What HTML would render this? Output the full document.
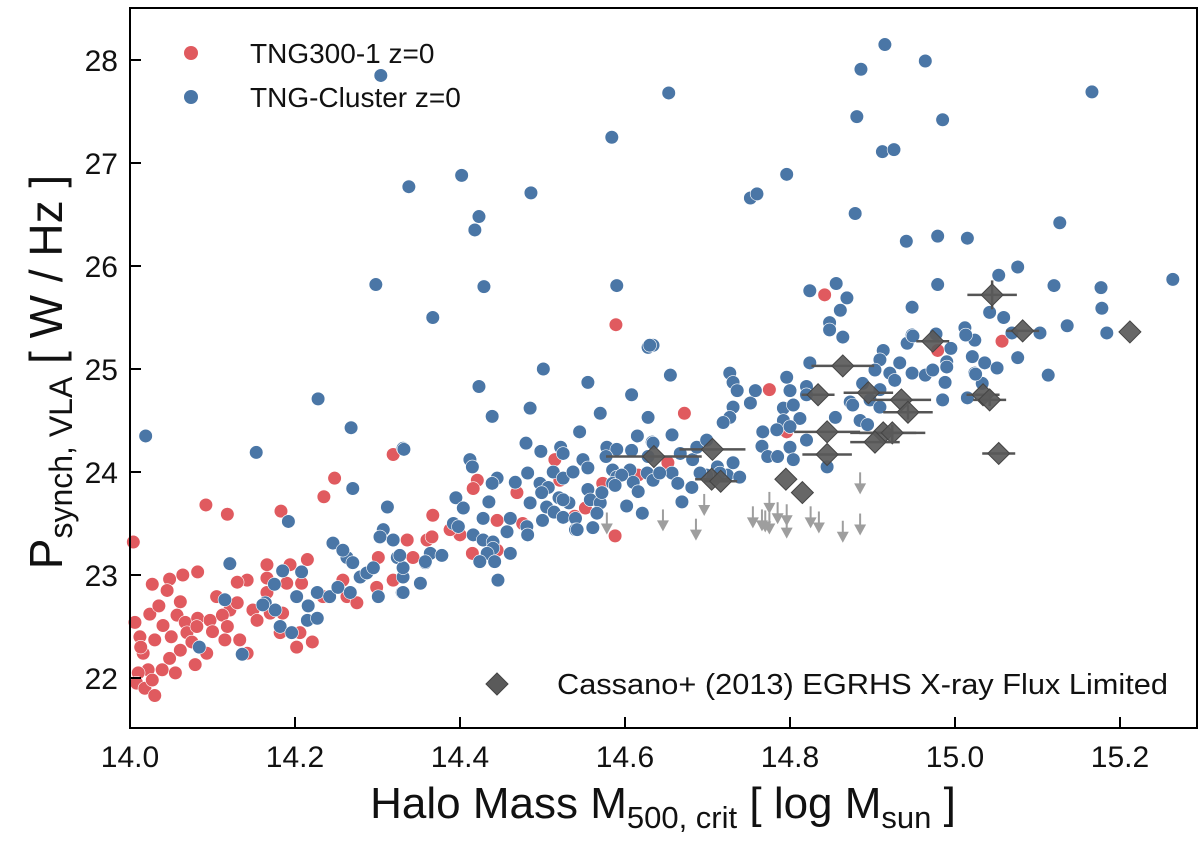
<!DOCTYPE html>
<html><head><meta charset="utf-8">
<style>
html,body{margin:0;padding:0;background:#fff;}
svg{display:block;font-family:"Liberation Sans",sans-serif;}
</style></head>
<body>
<svg id="chart" width="1200" height="845" viewBox="0 0 1200 845">
<g id="marks"></g>
<g id="axes"></g>
</svg>
<script>
const xTicks = [14.0, 14.2, 14.4, 14.6, 14.8, 15.0, 15.2];
const xTickLabels = ["14.0", "14.2", "14.4", "14.6", "14.8", "15.0", "15.2"];
const yTicks = [22, 23, 24, 25, 26, 27, 28];
const yTickLabels = ["22", "23", "24", "25", "26", "27", "28"];

const redX = [14.004,14.027,14.048,14.064,14.082,14.092,14.118,14.183,14.248,14.235,14.319,14.006,14.024,14.061,14.040,14.057,14.067,14.082,14.097,14.105,14.121,14.130,14.112,14.118,14.115,14.133,14.093,14.079,14.061,14.048,14.039,14.022,14.010,14.008,14.018,14.030,14.027,14.012,14.030,14.016,14.069,14.081,14.142,14.130,14.166,14.166,14.166,14.149,14.154,14.142,14.190,14.194,14.215,14.208,14.185,14.182,14.206,14.202,14.221,14.170,14.258,14.263,14.275,14.299,14.301,14.336,14.319,14.343,14.360,14.234,14.367,14.421,14.416,14.469,14.445,14.415,14.445,14.515,14.521,14.552,14.573,14.588,14.616,14.366,14.476,14.400,14.388,14.589,14.672,14.842,14.775,14.979,15.057,14.652,14.796,14.539,14.035,14.045,14.013,14.050,14.075,14.100,14.055];
const redY = [23.32,22.91,22.96,23.00,23.03,23.68,23.59,23.62,23.94,23.76,24.17,22.54,22.62,22.74,22.51,22.61,22.54,22.58,22.56,22.79,22.66,22.73,22.61,22.50,22.37,22.37,22.24,22.13,22.27,22.19,22.08,22.08,22.05,21.95,21.90,21.83,21.98,22.40,22.37,22.24,22.44,22.50,22.95,22.93,23.10,22.97,22.83,22.66,22.56,22.24,22.92,23.10,23.15,22.92,22.63,22.44,22.44,22.30,22.35,22.63,22.95,22.79,22.73,22.88,23.17,23.34,22.95,23.17,23.34,22.79,23.58,23.92,23.84,23.80,23.53,23.21,23.24,24.12,23.92,23.65,23.89,23.38,23.97,23.37,23.50,23.39,23.44,25.43,24.57,25.72,24.80,25.18,25.27,24.09,24.39,23.57,22.70,22.85,22.30,22.40,22.35,22.45,22.05];

const blueX = [14.019,14.153,14.228,14.268,14.298,14.304,14.338,14.367,14.402,14.418,14.423,14.429,14.486,14.501,14.584,14.653,14.752,14.760,14.796,14.879,14.886,14.881,14.915,14.912,14.926,14.964,14.985,14.941,14.979,15.015,15.127,15.166,
14.270,14.312,14.192,14.331,14.246,14.121,14.185,14.208,14.175,14.202,14.164,14.176,14.216,14.215,14.227,14.182,14.196,14.115,14.084,14.136,14.227,14.242,14.252,14.263,14.270,14.279,14.287,14.295,14.301,14.307,14.319,14.303,14.324,14.331,14.330,14.352,14.358,14.258,14.267,14.161,
14.423,14.439,14.485,14.555,14.608,14.570,14.628,14.545,14.615,14.332,14.480,14.498,14.522,14.525,14.578,14.590,14.577,14.608,14.633,14.412,14.415,14.445,14.439,14.467,14.482,14.513,14.525,14.537,14.549,14.555,14.497,14.507,14.499,14.585,14.590,14.606,14.610,14.627,14.634,14.616,14.585,14.395,14.404,14.435,14.485,14.505,14.520,14.532,14.514,14.525,14.500,14.540,14.540,14.555,14.558,14.570,14.566,14.561,14.602,14.621,14.428,14.461,14.457,14.481,14.482,14.392,14.398,14.416,14.428,14.440,14.440,14.433,14.424,14.442,14.461,14.446,14.364,14.378,14.358,14.331,14.331,14.327,
14.848,14.848,14.864,14.824,14.796,14.800,14.820,14.820,14.792,14.804,14.792,14.812,14.800,14.784,14.767,14.766,14.773,14.785,14.800,14.804,14.820,14.845,14.855,14.727,14.731,14.736,14.731,14.727,14.719,14.752,14.758,14.628,14.634,14.655,14.942,14.948,14.913,14.909,14.933,14.903,14.921,14.927,14.888,14.909,14.873,14.876,14.897,14.909,14.885,14.894,14.948,14.964,14.973,14.985,14.990,14.990,14.988,15.012,15.024,15.021,15.036,15.051,15.024,15.033,15.076,15.113,15.103,15.015,
14.628,14.634,14.657,14.667,14.682,14.687,14.699,14.724,14.739,14.731,14.712,14.715,14.699,14.691,14.669,14.681,14.657,14.664,14.642,14.596,14.588,14.572,14.525,14.542,
15.076,15.053,14.979,15.120,15.177,15.264,15.178,14.948,15.042,15.059,15.136,15.184,15.103,15.069,15.013,14.949,14.977,14.995,15.025,14.590,14.630,14.856,14.869,14.824,14.861];
const blueY = [24.35,24.19,24.71,24.43,25.82,27.85,26.77,25.50,26.88,26.35,26.48,25.80,26.71,25.00,27.25,27.68,26.66,26.70,26.89,26.51,27.91,27.45,28.15,27.11,27.13,27.99,27.42,26.24,26.29,26.27,26.42,27.69,
23.84,23.66,23.52,24.23,23.31,23.11,23.04,23.03,22.91,22.79,22.73,22.66,22.70,22.56,22.58,22.50,22.44,22.76,22.30,22.23,22.83,22.79,22.88,23.17,23.12,22.98,23.02,23.07,22.79,23.44,23.34,23.37,23.17,22.98,22.83,22.92,23.12,23.24,22.83,22.71,
24.83,24.54,24.62,24.87,24.75,24.57,24.53,24.39,24.35,24.22,24.28,24.20,24.24,24.18,24.24,24.22,24.15,24.21,24.29,24.12,24.05,23.94,23.89,23.90,23.99,24.00,23.94,24.00,24.12,24.04,23.89,23.85,23.80,24.02,23.95,24.02,23.90,23.99,23.92,23.81,23.89,23.75,23.65,23.71,23.70,23.66,23.75,23.70,23.61,23.56,23.53,23.55,23.44,23.83,23.73,23.70,23.60,23.46,23.67,23.60,23.55,23.55,23.42,23.47,23.39,23.50,23.47,23.39,23.34,23.32,23.26,23.21,23.13,23.13,23.21,22.95,23.21,23.19,23.13,22.83,23.07,23.19,
25.45,25.38,25.31,25.06,24.92,24.79,24.83,24.75,24.62,24.65,24.50,24.52,24.44,24.41,24.39,24.25,24.15,24.15,24.24,24.12,24.31,24.05,24.53,24.96,24.87,24.79,24.63,24.53,24.48,24.67,24.79,25.21,25.23,24.94,25.25,25.33,25.18,25.09,25.06,24.99,24.96,24.89,24.86,24.80,24.68,24.65,24.70,24.63,24.50,24.46,24.96,24.94,24.99,24.70,25.07,25.02,24.87,25.40,25.28,25.12,25.06,25.01,24.96,24.86,25.11,24.94,25.35,24.72,
24.15,24.28,24.36,24.18,24.12,24.24,24.31,23.97,23.95,24.09,24.05,23.99,23.97,23.99,23.71,23.85,23.99,23.89,23.99,23.97,23.87,23.80,23.73,23.44,
25.99,25.91,25.82,25.81,25.79,25.87,25.59,25.60,25.55,25.50,25.42,25.35,25.35,25.35,25.33,25.32,25.34,25.20,24.95,25.81,25.23,25.83,25.69,25.76,25.57];

const casX = [14.635,14.706,14.705,14.716,14.795,14.815,14.834,14.864,14.845,14.845,14.895,14.935,14.943,14.913,14.924,14.903,14.973,15.082,15.034,15.042,15.053,15.045,15.212];
const casY = [24.15,24.22,23.93,23.91,23.93,23.80,24.75,25.03,24.39,24.17,24.77,24.70,24.58,24.38,24.38,24.29,25.27,25.37,24.75,24.70,24.18,25.72,25.36];
const casXerr = [0.058,0.040,0.020,0.020,0,0,0.020,0.038,0.040,0.030,0.030,0.036,0.030,0.040,0.040,0.030,0.020,0.020,0.020,0.020,0.020,0.030,0];
const casYerr = [0,0,0,0,0,0,0,0,0,0,0,0,0.07,0,0.08,0,0,0,0,0.06,0,0.14,0];

const limX = [14.578,14.646,14.696,14.686,14.755,14.766,14.775,14.775,14.785,14.796,14.796,14.825,14.835,14.864,14.885,14.885,14.770];
const limY = [23.50,23.53,23.68,23.44,23.56,23.53,23.70,23.50,23.60,23.58,23.46,23.56,23.51,23.42,23.89,23.49,23.52];

const NS = "http://www.w3.org/2000/svg";
const L = 130, R = 1197, T = 8, B = 728;
function X(v){ return L + (v - 14) * 825; }
function Y(v){ return 678 - (v - 22) * 103; }
function mk(tag, attrs, parent){
  const e = document.createElementNS(NS, tag);
  for (const k in attrs) e.setAttribute(k, attrs[k]);
  parent.appendChild(e);
  return e;
}
const marks = document.getElementById("marks");
const axes = document.getElementById("axes");

const redG = mk("g", {}, marks);


for (let i = 0; i < redX.length; i++) {
  const c = mk("circle", {cx: X(redX[i]), cy: Y(redY[i]), r: 6.8, fill: "#e05a5f", stroke: "#fff", "stroke-width": 0.6}, redG);
  
  
}
const blueG = mk("g", {}, marks);


for (let i = 0; i < blueX.length; i++) {
  const c = mk("circle", {cx: X(blueX[i]), cy: Y(blueY[i]), r: 6.8, fill: "#4a76a6", stroke: "#fff", "stroke-width": 0.6}, blueG);
  
  
}
const casG = mk("g", {}, marks);


for (let i = 0; i < casX.length; i++) {
  const cx = X(casX[i]), cy = Y(casY[i]);
  if (casXerr[i] > 0) {
    const eb = mk("line", {x1: X(casX[i] - casXerr[i]), x2: X(casX[i] + casXerr[i]), y1: cy, y2: cy, stroke: "#555", "stroke-width": 2.5}, casG);
    
    
  }
  if (casYerr[i] > 0) {
    const ey = mk("line", {x1: cx, x2: cx, y1: Y(casY[i] - casYerr[i]), y2: Y(casY[i] + casYerr[i]), stroke: "#555", "stroke-width": 2.5}, casG);
    
    
  }
  const d = mk("polygon", {points: `${cx-11},${cy} ${cx},${cy-11} ${cx+11},${cy} ${cx},${cy+11}`, fill: "#5a5a5a", "fill-opacity": 0.92, stroke: "#444", "stroke-width": 1}, casG);
  
  
}
const limG = mk("g", {}, marks);


for (let i = 0; i < limX.length; i++) {
  const cx = X(limX[i]), cy = Y(limY[i]);
  const a = mk("g", {}, limG);
  
  
  mk("line", {x1: cx, x2: cx, y1: cy - 11, y2: cy + 2, stroke: "#9e9e9e", "stroke-width": 2}, a);
  mk("polygon", {points: `${cx-6},${cy} ${cx+6},${cy} ${cx},${cy+11}`, fill: "#9e9e9e"}, a);
}

const frame = mk("rect", {x: L, y: T, width: R - L, height: B - T, fill: "none", stroke: "#000", "stroke-width": 2}, axes);


for (let i = 0; i < xTicks.length; i++) {
  const x = X(xTicks[i]);
  const t = mk("line", {x1: x, x2: x, y1: B, y2: B - 11, stroke: "#000", "stroke-width": 2}, axes);
  
  
  const tx = mk("text", {x: x, y: 767, "text-anchor": "middle", "font-size": 30, fill: "#111"}, axes);
  tx.textContent = xTickLabels[i];
  
  
}
for (let i = 0; i < yTicks.length; i++) {
  const y = Y(yTicks[i]);
  const t = mk("line", {x1: L, x2: L + 11, y1: y, y2: y, stroke: "#000", "stroke-width": 2}, axes);
  
  
  const ty = mk("text", {x: 118, y: y + 11, "text-anchor": "end", "font-size": 30, fill: "#111"}, axes);
  ty.textContent = yTickLabels[i];
  
  
}
</script>
<svg style="position:absolute;left:0;top:0" width="1200" height="845">
  <g font-family="Liberation Sans, sans-serif">
    <g>
      <circle cx="191" cy="53" r="7" fill="#e05a5f"/>
      <text x="250" y="63" font-size="28" fill="#111">TNG300-1 z=0</text>
    </g>
    <g>
      <circle cx="191" cy="97" r="7" fill="#4a76a6"/>
      <text x="250" y="107" font-size="28" fill="#111">TNG-Cluster z=0</text>
    </g>
  </g>
  <g font-family="Liberation Sans, sans-serif">
    <polygon points="486,684 497,673 508,684 497,695" fill="#5a5a5a" stroke="#444"/>
    <text x="557" y="694" font-size="29" textLength="611" lengthAdjust="spacingAndGlyphs" fill="#111">Cassano+ (2013) EGRHS X-ray Flux Limited</text>
  </g>
  <text x="663" y="818" text-anchor="middle" font-family="Liberation Sans, sans-serif" font-size="44" fill="#111">Halo Mass M<tspan font-size="31" dy="10">500, crit</tspan><tspan dy="-10"> [ log M</tspan><tspan font-size="31" dy="10">sun</tspan><tspan dy="-10"> ]</tspan></text>
  <text transform="translate(62,372) rotate(-90)" text-anchor="middle" font-family="Liberation Sans, sans-serif" font-size="46" fill="#111">P<tspan font-size="32" dy="10">synch, VLA</tspan><tspan dy="-10"> [ W / Hz ]</tspan></text>
</svg>
</body></html>
